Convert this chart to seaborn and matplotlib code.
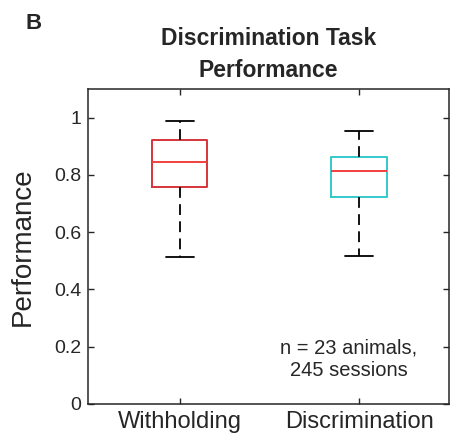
import numpy as np
import pandas as pd
import matplotlib.pyplot as plt
import seaborn as sns

# five-number summaries: [min, q1, median, q3, max]
tasks = ['Withholding', 'Discrimination']
withholding = [0.515, 0.757, 0.845, 0.923, 0.988]
discrimination = [0.517, 0.724, 0.812, 0.862, 0.953]
box_colors = ['#D7343A', '#33C9CC']
yticks = [0, 0.2, 0.4, 0.6, 0.8, 1]
yticklabels = ['0', '0.2', '0.4', '0.6', '0.8', '1']

sns.set_theme(style='ticks')
plt.rcParams['font.family'] = ['Liberation Sans', 'DejaVu Sans']
ink = '#262626'
plt.rcParams['text.color'] = ink
plt.rcParams['axes.labelcolor'] = ink
plt.rcParams['xtick.color'] = ink
plt.rcParams['ytick.color'] = ink

df = pd.DataFrame({
    'task': [tasks[0]] * len(withholding) + [tasks[1]] * len(discrimination),
    'performance': withholding + discrimination,
})

fig = plt.figure(figsize=(4.59, 4.42), dpi=100)
ax = fig.add_axes([0.1917, 0.086, 0.7865, 0.7126])

sns.boxplot(data=df, x='task', y='performance', hue='task', palette=box_colors,
            order=tasks, hue_order=tasks, fill=False, width=0.31, whis=(0, 100),
            linewidth=1.4, legend=False, ax=ax,
            medianprops=dict(color='#F0403C', linewidth=1.4),
            whiskerprops=dict(color='black', linestyle=(0, (6, 3.5)), linewidth=1.3),
            capprops=dict(color='black', linewidth=1.3))

# make sure whiskers are black and dashed
for line in ax.lines:
    xd = np.asarray(line.get_xdata(), dtype=float)
    yd = np.asarray(line.get_ydata(), dtype=float)
    if len(xd) == 2 and np.isclose(xd[0], xd[1]) and not np.isclose(yd[0], yd[1]):
        line.set_color('black')
        line.set_linestyle((0, (6, 3.5)))
        line.set_linewidth(1.3)

ax.set_xlim(-0.51, 1.5)
ax.set_ylim(0, 1.1)
ax.set_yticks(yticks)
ax.set_yticklabels(yticklabels)
ax.tick_params(axis='both', direction='in', length=4, width=1, top=True, right=True)
ax.tick_params(axis='y', labelsize=14, pad=5)
ax.tick_params(axis='x', labelsize=17, pad=5)
for s in ax.spines.values():
    s.set_visible(True)
    s.set_color(ink)
    s.set_linewidth(1.1)

ax.set_xlabel('')
ax.set_ylabel('Performance', fontsize=20)
ax.yaxis.set_label_coords(-0.145, 0.5)
ax.set_title('Discrimination Task\nPerformance', fontsize=16.5, fontweight='bold',
             linespacing=1.45, pad=9)

ax.text(0.94, 0.155, 'n = 23 animals,\n245 sessions', fontsize=14.5,
        ha='center', va='center', multialignment='center', linespacing=1.25)

fig.text(0.055, 0.947, 'B', fontsize=16, fontweight='bold', ha='left', va='center')

fig.savefig('out.png', dpi=100)
